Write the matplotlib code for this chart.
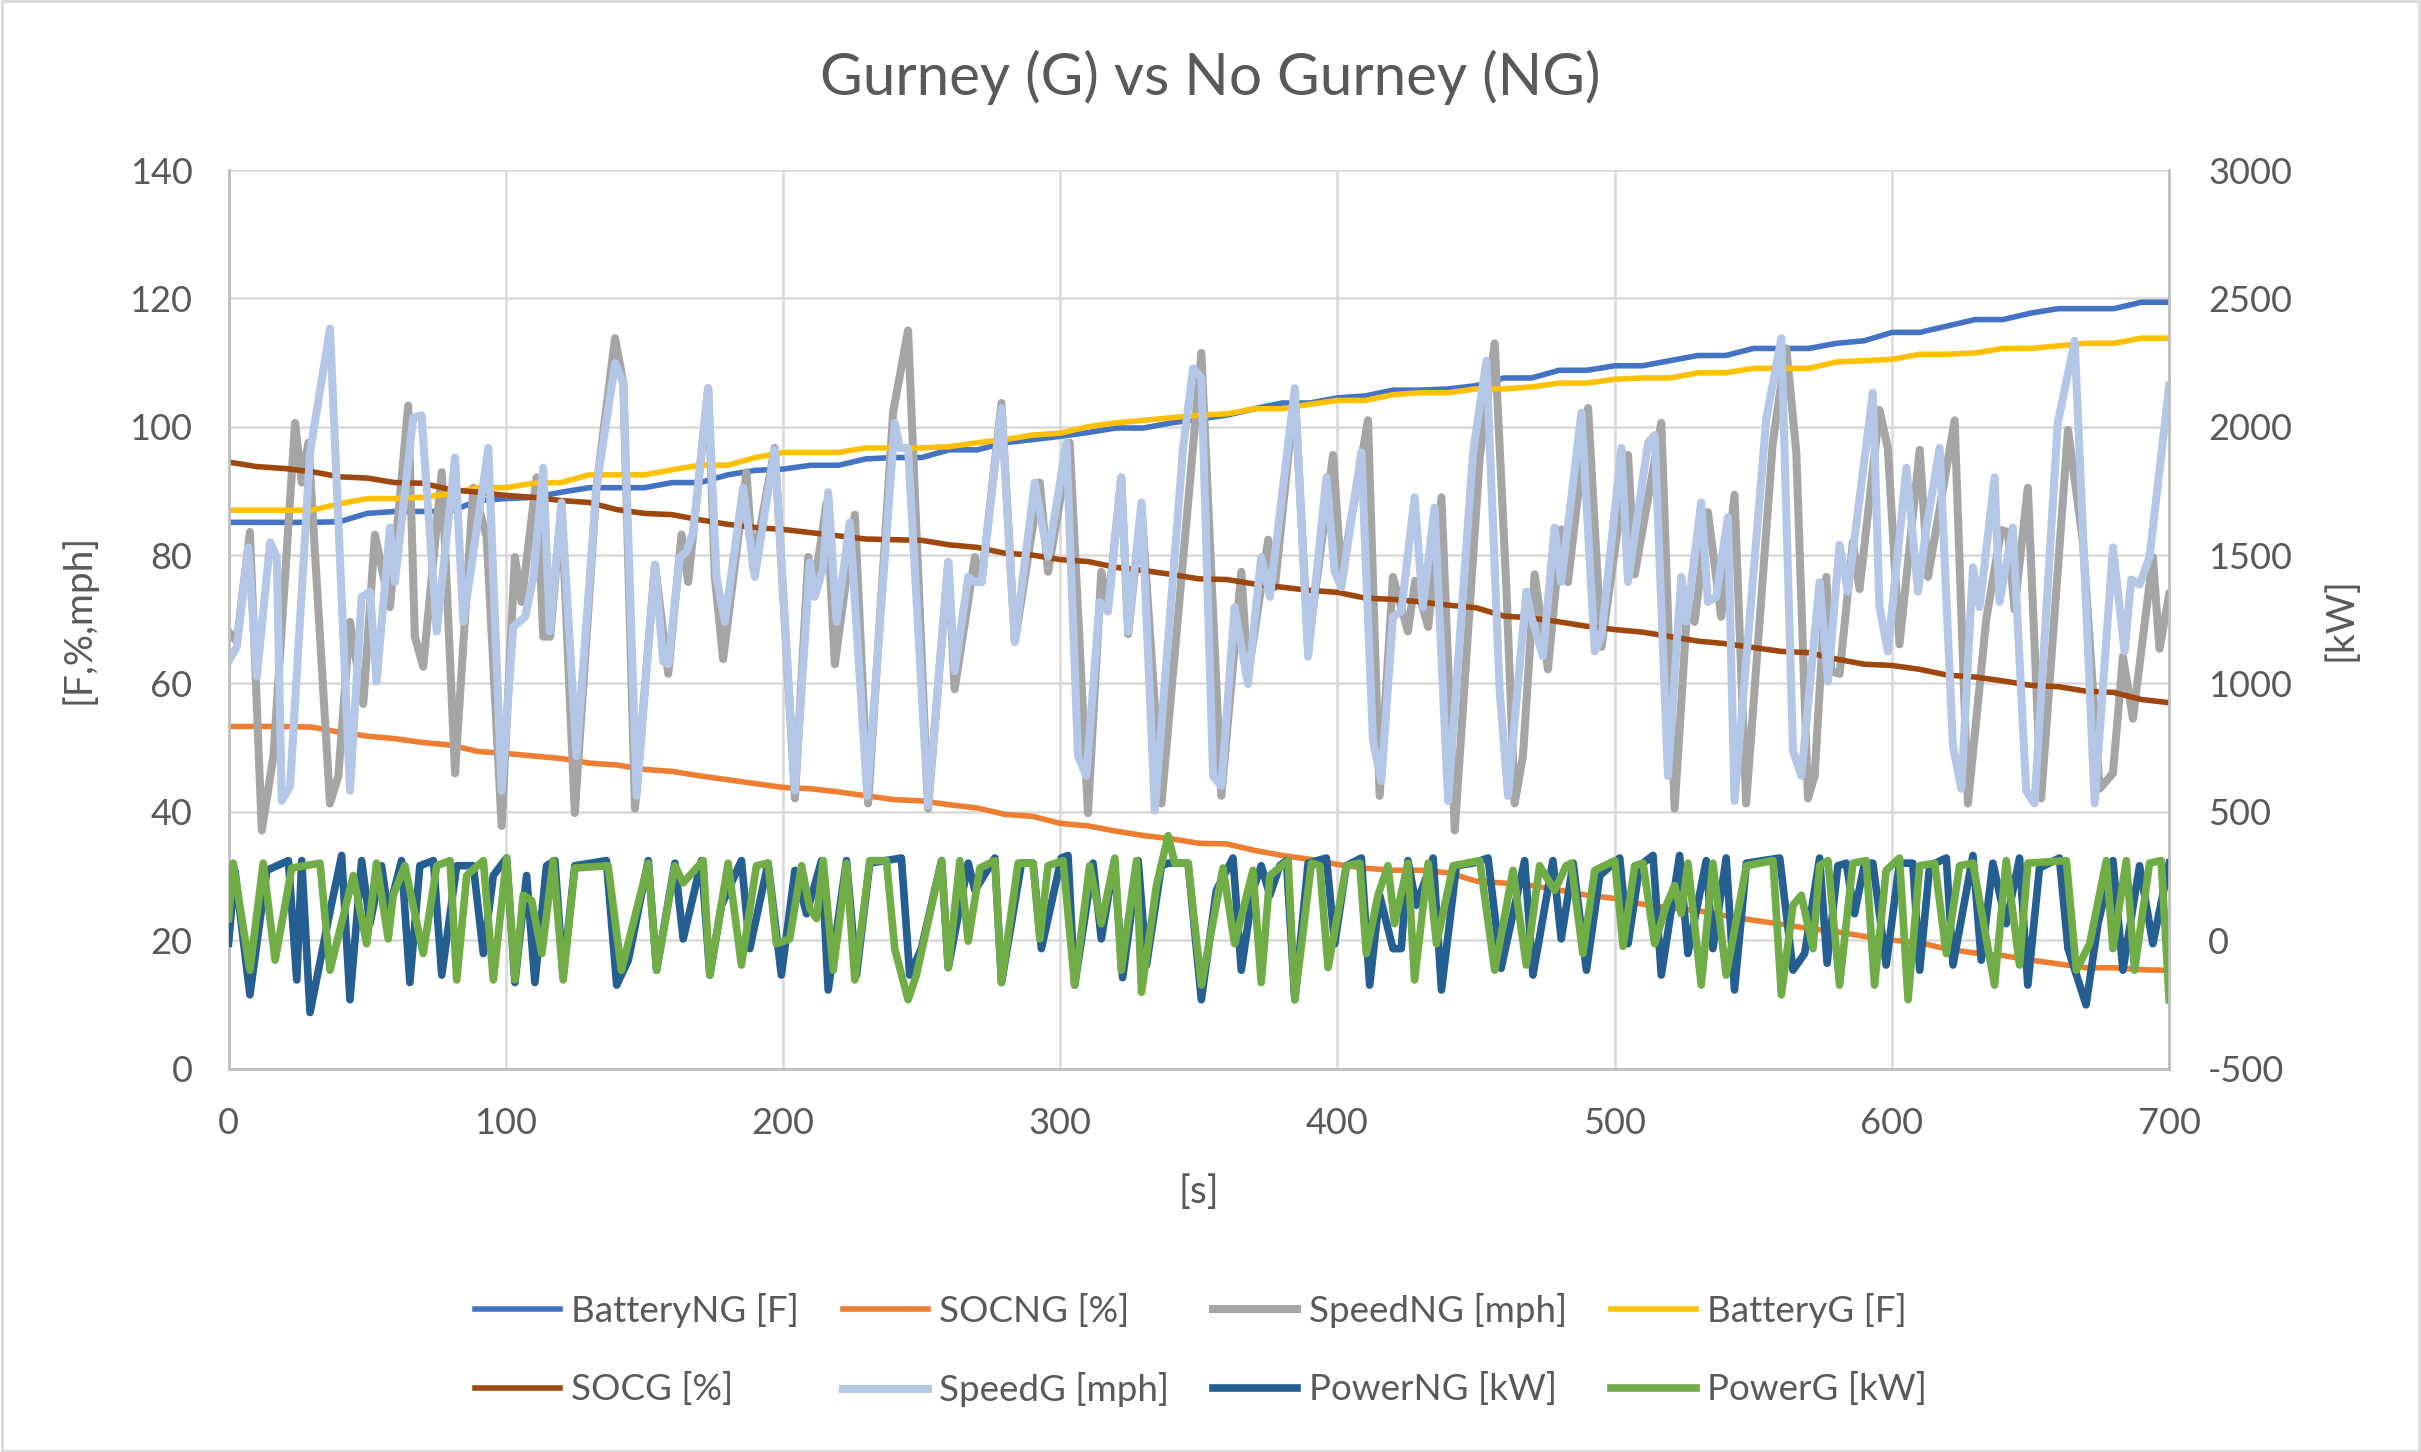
import numpy as np
import matplotlib.pyplot as plt
from matplotlib.patches import Rectangle

plt.rcParams['font.family'] = ['Lato', 'DejaVu Sans']
plt.rcParams['axes.unicode_minus'] = False

# battery temperature and state of charge, read every 10 s
t10 = np.arange(0, 701, 10)
battery_ng = [85.1, 85.1, 85.1, 85.1, 85.2, 86.5, 86.8, 86.8, 86.8, 88.5, 88.8, 89.0, 89.8, 90.5, 90.5, 90.5,
              91.3, 91.3, 92.5, 93.2, 93.4, 94.0, 94.0, 95.0, 95.2, 95.2, 96.4, 96.4, 97.5, 98.0, 98.5, 99.1,
              99.8, 99.8, 100.6, 101.2, 101.8, 102.8, 103.7, 103.7, 104.5, 104.8, 105.7, 105.7, 105.9, 106.4,
              107.6, 107.6, 108.8, 108.8, 109.5, 109.5, 110.3, 111.1, 111.1, 112.2, 112.2, 112.2, 113.0, 113.4,
              114.7, 114.7, 115.7, 116.7, 116.7, 117.7, 118.4, 118.4, 118.4, 119.4, 119.4]
battery_g = [87.0, 87.0, 87.0, 87.0, 88.0, 88.8, 88.8, 89.0, 89.6, 90.5, 90.5, 91.2, 91.3, 92.5, 92.5, 92.5,
             93.3, 94.0, 94.0, 95.2, 96.0, 96.0, 96.0, 96.7, 96.7, 96.7, 96.9, 97.5, 98.0, 98.7, 99.0, 100.0,
             100.6, 101.0, 101.4, 101.8, 102.0, 102.8, 102.8, 103.5, 104.1, 104.1, 105.0, 105.3, 105.3, 105.9,
             105.9, 106.2, 106.8, 106.8, 107.4, 107.6, 107.6, 108.4, 108.4, 109.1, 109.1, 109.1, 110.1, 110.3,
             110.5, 111.3, 111.3, 111.5, 112.2, 112.2, 112.6, 113.0, 113.0, 113.8, 113.8]
soc_ng = [53.3, 53.3, 53.3, 53.2, 52.4, 51.8, 51.4, 50.8, 50.4, 49.4, 49.1, 48.7, 48.3, 47.6, 47.3, 46.6,
          46.3, 45.6, 45.0, 44.4, 43.8, 43.6, 43.1, 42.5, 41.9, 41.7, 41.1, 40.6, 39.6, 39.3, 38.2, 37.8,
          37.0, 36.3, 35.8, 35.1, 35.0, 34.0, 33.2, 32.6, 31.8, 31.2, 30.9, 30.9, 30.5, 29.2, 28.9, 28.5,
          27.8, 27.0, 26.5, 25.6, 25.0, 24.6, 23.8, 23.1, 22.5, 21.8, 21.3, 20.6, 20.0, 19.6, 18.6, 18.0,
          17.6, 16.9, 16.3, 15.7, 15.7, 15.4, 15.3]
soc_g = [94.5, 93.8, 93.5, 93.0, 92.2, 92.0, 91.3, 91.2, 90.2, 89.8, 89.3, 89.0, 88.5, 88.2, 87.1, 86.5,
         86.3, 85.5, 84.8, 84.3, 84.0, 83.5, 83.0, 82.5, 82.4, 82.3, 81.6, 81.2, 80.3, 80.0, 79.3, 79.0,
         78.1, 77.6, 77.0, 76.3, 76.2, 75.5, 75.0, 74.5, 74.2, 73.3, 73.1, 72.7, 72.2, 71.8, 70.5, 70.2,
         69.6, 68.9, 68.4, 68.0, 67.3, 66.6, 66.2, 65.6, 65.0, 64.8, 63.8, 63.0, 62.8, 62.2, 61.3, 61.0,
         60.4, 59.7, 59.5, 58.8, 58.6, 57.5, 57.0]

# speeds (turning points)
t_speed_ng = [0, 3, 7.7, 12, 16.2, 24, 26.4, 28.8, 36.6, 39.6, 43.8, 48.6, 52.8, 58.2, 64.8, 67.2, 70.2, 76.9,
              81.7, 88.3, 93.1, 98.5, 103.3, 105.7, 111.1, 113.5, 116, 120.1, 124.9, 132.7, 139.4, 142.4, 146.6,
              153.8, 158.6, 163.4, 165.8, 168.2, 173, 175.4, 178.4, 186.8, 189.2, 197, 204.3, 209.1, 211.5,
              215.7, 218.7, 225.9, 230.7, 239.7, 245.1, 252.3, 259.6, 261.9, 269.2, 271.6, 278.8, 283.6, 292.6,
              295.6, 303.4, 310, 314.8, 317.2, 322, 324.5, 329.3, 336.5, 350.9, 358.1, 365.3, 367.7, 375, 377.4,
              384.6, 389.4, 398.4, 401.4, 411, 415.2, 420, 425.4, 428, 432.7, 437.5, 442.3, 451.3, 456.7, 460.9,
              463.9, 466.9, 471.1, 475.9, 480.7, 483.1, 490.4, 495.2, 504.8, 507.2, 516.8, 521.6, 526.4, 528.8,
              533.6, 538.4, 543.2, 547.4, 557, 561.9, 565.5, 569.7, 572.1, 576.3, 578.1, 581.1, 585.9, 588.3,
              595.5, 598.5, 602.7, 610, 613, 622.6, 627.4, 634, 639.4, 641.8, 644.2, 649, 653.8, 663.5, 668.9,
              674.9, 679.7, 683.3, 686.9, 694.1, 696.5, 700]
speed_ng = [68.1, 66.5, 83.6, 37.1, 48.7, 100.6, 91.3, 97.5, 41.3, 45.6, 69.6, 56.8, 83.2, 71.9, 103.3, 67.3, 62.6,
            92.9, 46, 90.5, 82.8, 37.8, 79.7, 72.7, 92.1, 67.3, 67.3, 87.4, 39.8, 90.5, 113.8, 106.8, 40.5, 78.5,
            61.5, 83.2, 75.8, 85.9, 106, 76.6, 63.8, 92.9, 78.1, 96.7, 42.1, 79.7, 75.8, 88.2, 63, 86.3, 41.3,
            102.2, 115, 40.5, 78.9, 59.1, 79.7, 75.8, 103.7, 66.5, 91.3, 77.4, 97.5, 39.8, 77.4, 71.9, 92.1, 67.7,
            87.4, 41.3, 111.5, 42.5, 77.4, 61.1, 82.4, 75, 105.3, 65.7, 95.6, 76.6, 101, 42.5, 76.6, 68.1, 76,
            68.8, 89, 37.1, 95.2, 113, 75, 41.3, 48.7, 77, 62.2, 84, 75.8, 102.9, 65.7, 95.6, 77, 100.6, 40.5,
            73.5, 69.6, 86.7, 70.4, 89.4, 41.3, 97.5, 112.2, 96, 42.1, 45.6, 76.6, 61.9, 61.5, 82, 74.7, 102.6,
            96.7, 66.1, 96.4, 76.6, 101, 41.3, 70, 83.9, 83.6, 71.5, 90.5, 42.1, 99.5, 82, 43.6, 46, 64.2, 54.5,
            79.7, 65.4, 73.9]
t_speed_g = [0, 3, 7.1, 10.2, 15, 17.4, 19.2, 22.2, 29.4, 36.6, 43.8, 48, 51, 53.4, 58.2, 60, 66.6, 69.6, 75.1,
             81.7, 84.7, 93.7, 98.5, 102.7, 107, 110, 113.5, 115.9, 120.1, 125.5, 132.7, 139.4, 142.4, 147.2,
             153.8, 156.8, 158.6, 162.8, 165.2, 167.6, 173, 176, 179, 185.6, 189.8, 197, 204.3, 209.7, 211.5,
             214.5, 216.3, 219.3, 224.1, 230.4, 240.3, 242.1, 245.1, 252.3, 259.6, 261.9, 266.8, 269.2, 271.6,
             278.8, 283.6, 290.8, 295.6, 302.2, 306.4, 309.4, 314.2, 317.2, 322, 324.5, 329.3, 334.1, 344.3,
             347.9, 350.9, 355.1, 358.1, 362.9, 367.7, 372.5, 375.6, 384.6, 389.4, 396, 399, 401.4, 408.6, 412.8,
             415.8, 420, 423, 427.8, 430.8, 435, 439.9, 448.9, 453.7, 458.5, 461.5, 468.1, 469.9, 474.1, 478.3,
             480.7, 488, 492.8, 495.2, 502.4, 504.8, 512, 514.4, 519.2, 524, 525.8, 531.2, 533.6, 536.6, 540.8,
             543.2, 554.7, 560.1, 564.3, 567.3, 573.9, 576.9, 581.1, 584.1, 593.1, 595.5, 598.5, 605.2, 609.4,
             612.4, 617.2, 622, 625, 629.2, 631.6, 637, 638.8, 643.6, 648.4, 651.4, 659.8, 665.9, 673.1, 679.7,
             683.9, 686.3, 689.3, 692.9, 700]
speed_g = [63.4, 65.7, 81.2, 61.1, 82, 79.7, 41.7, 44, 96, 115.3, 43.3, 73.5, 74.3, 60.3, 84.3, 75.8, 101.4,
           101.8, 68.1, 95.2, 69.6, 96.7, 43.3, 68.8, 70.4, 76.6, 93.6, 68.1, 88.2, 48.7, 90.5, 109.9, 106.8,
           42.5, 78.5, 63.4, 63.0, 79.7, 80.5, 83.6, 106, 76.6, 69.6, 90.5, 76.6, 96.4, 43.3, 78.9, 73.5, 78.1,
           89.8, 69.6, 85.1, 42.5, 100.6, 96.7, 96.7, 40.9, 78.9, 61.9, 76.6, 75.8, 75.8, 102.9, 66.5, 91.3,
           79.7, 97.5, 48.7, 45.6, 72.7, 71.2, 92.1, 68.1, 88.2, 40.2, 96.7, 109.1, 107.6, 45.6, 44, 71.9, 59.9,
           79.7, 73.5, 106, 64.2, 92.1, 77.4, 75, 96, 51, 44.8, 70.4, 71.2, 89, 71.9, 87.4, 41.7, 96, 110.3,
           58.8, 42.5, 74.3, 70.4, 64.2, 84.3, 75.8, 102.2, 65, 67.3, 96.7, 75.8, 97.5, 98.7, 45.6, 76.6, 69.6,
           88.2, 72.7, 73.5, 85.9, 41.7, 101.4, 113.8, 49.5, 45.6, 75.8, 60.3, 81.6, 74.3, 105.3, 71.9, 65,
           93.6, 74.3, 84.3, 96.7, 50.2, 43.6, 78.1, 71.9, 92.1, 72.7, 84.3, 43.3, 41.3, 100.6, 113.4, 41.3,
           81.2, 65, 76.2, 75.4, 79.7, 106.4]

# power on the right axis (kW, turning points)
t_power_ng = [0, 2.3, 7.7, 13.8, 21.6, 24.6, 26.4, 29.4, 36.6, 40.8, 43.8, 48, 51, 55.2, 57.6, 62.4, 65.4, 69,
              73.9, 76.9, 82.3, 88.3, 91.9, 95.5, 100.3, 103.3, 107.5, 110.5, 114.7, 117.7, 120.7, 124.9, 136.3,
              140, 144.2, 151.4, 154.4, 161, 164, 170.6, 173.6, 177.8, 185, 188, 194.6, 199.4, 204.3, 208.5,
              213.9, 216.3, 222.9, 226.5, 231.3, 242.7, 245.7, 249.9, 257.2, 259.6, 266.8, 269.2, 276.4, 278.8,
              286, 290.2, 293.2, 300.4, 302.8, 305.2, 311.8, 314.8, 319.5, 322.5, 328.1, 331.1, 336.5, 339,
              346.1, 350.9, 356.3, 362.3, 365.3, 369.5, 372.5, 375.6, 379.2, 381.6, 384.6, 389.4, 396, 399,
              403.2, 408.6, 411.6, 415.2, 420, 423, 425.4, 428.4, 434.5, 437.5, 442.9, 448.9, 454.3, 459,
              463.3, 467.5, 470.5, 477.7, 480.7, 485, 489.8, 494.6, 501.8, 504.8, 509, 513.8, 516.8, 523.4,
              526.4, 533, 535.4, 540.2, 543.2, 547.5, 559.5, 564.3, 568.5, 573.9, 576.6, 580.5, 583.5, 586.5,
              590.1, 593.1, 597.9, 602.7, 607.5, 610, 613.6, 619.6, 622, 629.2, 632.2, 636.4, 641.2, 646, 649,
              653.2, 660.4, 663.5, 670, 674.3, 679.7, 683.3, 689.3, 694.1, 700]
power_ng = [-12, 272, -213, 272, 310, -155, 310, -282, 112, 330, -232, 310, 64, 290, 103, 310, -165, 290, 310,
            -136, 290, 290, -52, 252, 320, -165, 252, -165, 290, 310, -136, 290, 310, -175, -78, 310, -117, 300,
            5, 310, -136, 136, 310, -33, 300, -136, 272, 103, 310, -194, 310, -136, 300, 320, -136, -33, 310,
            -107, 300, 194, 320, -165, 300, 300, -33, 320, 330, -175, 300, 5, 310, -146, 310, -97, 290, 300,
            300, -232, 194, 320, -117, 194, 290, 175, 290, 310, -232, 300, 320, -14, 290, 320, -175, 175, -33,
            -33, 310, 136, 320, -194, 290, 300, 320, -110, 103, 310, -136, 310, 5, 300, -117, 252, 320, -14,
            290, 330, -136, 330, -52, 310, -33, 320, -194, 300, 320, -117, -52, 320, -90, 290, 300, 103, 300,
            300, -97, 300, 300, -117, 290, 320, -97, 330, -78, 300, 64, 320, -175, 281, 320, -33, -252, 64,
            310, -117, 290, -14, 300]
t_power_g = [0, 1.7, 7.7, 12.5, 16.8, 22.8, 33, 36.6, 45, 49.8, 53.4, 57.6, 59.4, 63.6, 70.2, 75.1, 79.9, 82.3,
             85.9, 91.9, 95.5, 100.3, 103.3, 106.3, 109.3, 113, 117.1, 120.7, 124.9, 136.9, 141.7, 151.4, 154.4,
             161, 164, 171.2, 173.6, 180.2, 185, 190.4, 194.6, 197.6, 202.4, 206.7, 209.7, 212.1, 214.5, 218.1,
             221.1, 222.9, 225.9, 231.3, 237.3, 240.3, 245.1, 248.1, 257.2, 259.6, 263.8, 266.8, 271, 276.4,
             278.8, 284.8, 290.2, 292.6, 295.6, 301, 305.2, 310.6, 314.8, 319.7, 322, 327.5, 329.3, 334.7,
             338.9, 341.3, 346.1, 350.9, 358.7, 362.9, 369.5, 372.5, 375.6, 382.2, 384.6, 390.6, 393.6, 396.6,
             403.2, 408, 410.4, 414.6, 418.2, 420.6, 425.4, 427.8, 432.7, 435.7, 441.7, 451.3, 456.7, 463.3,
             468.1, 472.9, 478.3, 482.5, 484.3, 488.5, 492.8, 500, 503, 507.2, 510.2, 514.4, 518.6, 521.6, 524,
             526.4, 531.2, 535.4, 540.2, 547.5, 557.1, 560.1, 564.3, 567.3, 571.5, 573.9, 576.9, 581.1, 585.9,
             590.7, 593.7, 597.9, 602.7, 605.8, 610, 615.4, 619.6, 624.4, 629.2, 637, 641.2, 646, 649, 662.9,
             666.5, 671.3, 677.3, 679.7, 684.5, 687.5, 692.9, 697.1, 700]
power_g = [84, 300, -117, 300, -78, 281, 300, -117, 252, -14, 300, 5, 175, 290, -52, 290, 310, -155, 252, 310,
           -155, 320, -155, 175, 155, -52, 310, -155, 281, 290, -117, 300, -117, 290, 223, 310, -136, 300, -97,
           290, 300, -14, 5, 290, 122, 84, 310, -117, 136, 300, -155, 310, 310, -33, -232, -136, 310, -107, 310,
           -4, 281, 310, -165, 300, 300, 5, 290, 310, -175, 290, 64, 320, -117, 310, -203, 213, 407, 300, 300,
           -175, 281, -14, 272, -165, 252, 310, -232, 300, 290, -107, 290, 300, -52, 175, 290, 64, 300, -155,
           300, -14, 290, 310, -117, 272, -97, 290, 194, 290, 300, -52, 272, 310, -24, 290, 300, -14, 136, 213,
           103, 300, -175, 300, -136, 290, 310, -213, 136, 175, -33, 290, 310, -175, 300, 310, -175, 272, 320,
           -232, 290, 300, -52, 290, 300, -175, 310, -97, 300, 310, -117, -14, 310, -33, 310, -117, 300, 310,
           -232]

grey = '#595959'
fig = plt.figure(figsize=(24.21, 14.52), dpi=100)
ax = fig.add_axes([0.0944, 0.2641, 0.8016, 0.6188])
ax2 = ax.twinx()

lines = []
lines += ax.plot(t10, battery_ng, color='#4472C4', lw=4, label='BatteryNG [F]')
lines += ax.plot(t10, soc_ng, color='#ED7D31', lw=4, label='SOCNG [%]')
lines += ax.plot(t_speed_ng, speed_ng, color='#A5A5A5', lw=5.8, label='SpeedNG [mph]')
lines += ax.plot(t10, battery_g, color='#FFC000', lw=4, label='BatteryG [F]')
lines += ax.plot(t10, soc_g, color='#9E480E', lw=4, label='SOCG [%]')
lines += ax.plot(t_speed_g, speed_g, color='#B4C7E7', lw=5.8, label='SpeedG [mph]')
lines += ax2.plot(t_power_ng, power_ng, color='#255E91', lw=5.5, label='PowerNG [kW]')
lines += ax2.plot(t_power_g, power_g, color='#70AD47', lw=5.5, label='PowerG [kW]')

ax.set_xlim(0, 700)
ax.set_ylim(0, 140)
ax2.set_ylim(-500, 3000)
ax.set_xticks(np.arange(0, 701, 100))
ax.set_yticks(np.arange(0, 141, 20))
ax2.set_yticks(np.arange(-500, 3001, 500))
ax.grid(True, color='#D9D9D9', lw=1.8)
ax.set_axisbelow(True)

for a in (ax, ax2):
    for s in a.spines.values():
        s.set_visible(False)
    a.tick_params(length=0, labelsize=26, labelcolor=grey)
ax.spines['left'].set_visible(True)
ax.spines['bottom'].set_visible(True)
ax2.spines['right'].set_visible(True)
for s in (ax.spines['left'], ax.spines['bottom'], ax2.spines['right']):
    s.set_color('#BFBFBF')
    s.set_linewidth(2)
ax.tick_params(axis='y', pad=26)
ax.tick_params(axis='x', pad=28)
ax2.tick_params(axis='y', pad=28)

ax.set_xlabel('[s]', fontsize=28, color=grey, labelpad=24)
ax.set_ylabel('[F,%,mph]', fontsize=28, color=grey, labelpad=24)
ax2.set_ylabel('[kW]', fontsize=28, color=grey, labelpad=22)
fig.suptitle('Gurney (G) vs No Gurney (NG)', fontsize=42, color=grey, y=0.966)

order = [0, 4, 1, 5, 2, 6, 3, 7]
fig.legend([lines[i] for i in order], [lines[i].get_label() for i in order],
           loc='center', bbox_to_anchor=(0.496, 0.07), ncol=4, frameon=False,
           fontsize=26.5, labelcolor=grey, handlelength=2.3, handletextpad=0.3,
           columnspacing=1.2, labelspacing=1.2)

fig.patches.append(Rectangle((0.001, 0.001), 0.998, 0.998, transform=fig.transFigure,
                             fill=False, edgecolor='#D9D9D9', lw=2))

plt.savefig('out.png', dpi=100)
